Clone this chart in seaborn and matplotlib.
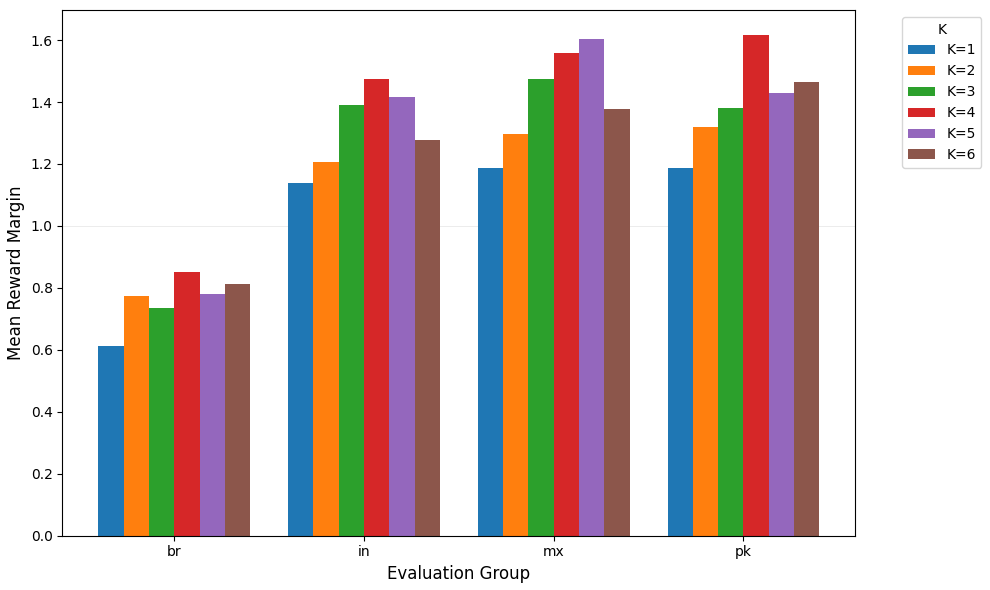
import numpy as np
import pandas as pd
import matplotlib
matplotlib.use("Agg")
import matplotlib.pyplot as plt
import seaborn as sns

groups = ["br", "in", "mx", "pk"]
k_labels = ["K=1", "K=2", "K=3", "K=4", "K=5", "K=6"]

# mean reward margin per K, in group order br, in, mx, pk
k1 = [0.614, 1.139, 1.188, 1.188]
k2 = [0.774, 1.206, 1.297, 1.319]
k3 = [0.735, 1.389, 1.474, 1.381]
k4 = [0.852, 1.474, 1.557, 1.616]
k5 = [0.779, 1.415, 1.605, 1.428]
k6 = [0.813, 1.277, 1.377, 1.465]

rows = []
for lab, vals in zip(k_labels, [k1, k2, k3, k4, k5, k6]):
    for g, v in zip(groups, vals):
        rows.append({"group": g, "K": lab, "margin": v})
df = pd.DataFrame(rows)

fig, ax = plt.subplots(figsize=(9.9, 5.9), dpi=100)
sns.barplot(data=df, x="group", y="margin", hue="K", order=groups,
            hue_order=k_labels, palette="tab10", saturation=1,
            errorbar=None, width=0.8, ax=ax)

ax.axhline(1.0, color="lightgray", lw=0.6, alpha=0.5, zorder=0)
ax.set_xlim(-0.59, 3.59)
ax.set_ylim(0, 1.697)
ax.set_xlabel("Evaluation Group", fontsize=12)
ax.set_ylabel("Mean Reward Margin", fontsize=12)
ax.legend(title="K", bbox_to_anchor=(1.05, 1), loc="upper left")

plt.subplots_adjust(left=0.063, right=0.864, top=0.983, bottom=0.092)
plt.savefig("out.png", dpi=100)
